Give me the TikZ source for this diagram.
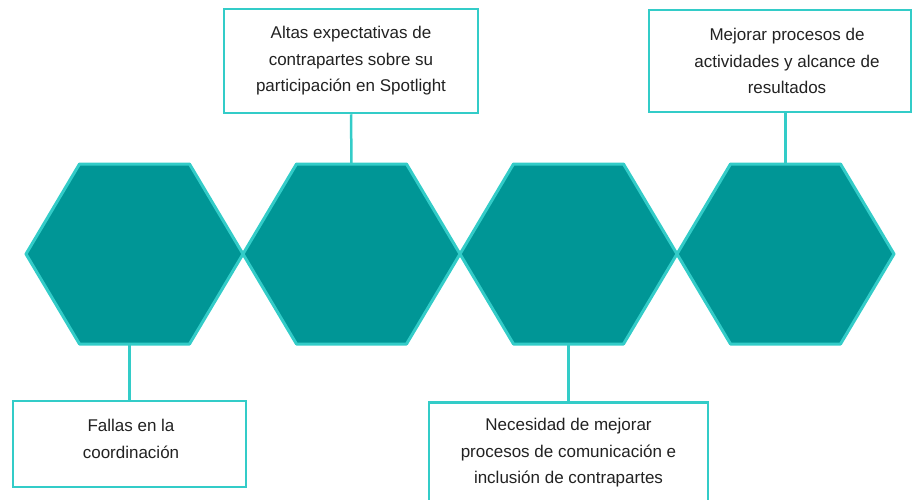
\documentclass[tikz,border=0pt]{standalone}
\usepackage{fontspec}
\setmainfont{Liberation Sans}
\definecolor{hexfill}{HTML}{009696}
\definecolor{hexline}{HTML}{33CCC8}
\definecolor{txt}{HTML}{222222}
\begin{document}
\begin{tikzpicture}[x=1pt,y=-1pt,
  hexa/.style={fill=hexfill,draw=hexline,line width=3pt,line join=round},
  label box/.style={draw=hexline,line width=2.5pt,fill=white,inner sep=0pt},
  label text/.style={align=center,text=txt,font=\fontsize{17}{26.5}\selectfont,inner sep=0pt},
  link/.style={draw=hexline,line width=2.5pt}]
\useasboundingbox (0,0) rectangle (915,499);
\begin{scope}
\clip (0,0) rectangle (915,499);
% hexagons
\foreach \i/\cx in {1/134.5,2/351.5,3/568.5,4/785.5}{
  \draw[hexa] (\cx-108.5,254) -- (\cx-55,164) -- (\cx+55,164) -- (\cx+108.5,254) -- (\cx+55,344) -- (\cx-55,344) -- cycle;
  \coordinate (top\i) at (\cx,164);
  \coordinate (bot\i) at (\cx,344);
}
% boxes
\node[label box,minimum width=254pt,minimum height=104pt] (b2) at (351,61) {};
\node[label text] (t2) at (351,61) {Altas expectativas de\\contrapartes sobre su\\participación en Spotlight};
\node[label box,minimum width=262pt,minimum height=102pt] (b4) at (780,61) {};
\node[label text] (t4) at (787,61) {Mejorar procesos de\\actividades y alcance de\\resultados};
\node[label box,minimum width=233pt,minimum height=86pt] (b1) at (129.5,444) {};
\node[label text] (t1) at (131,439) {Fallas en la\\coordinación};
\node[label box,minimum width=279pt,minimum height=110pt,anchor=north] (b3) at (568.5,401) {};
\node[label text] (t3) at (568.5,453) {Necesidad de mejorar\\procesos de comunicación e\\inclusión de contrapartes};
% connectors
\draw[link] (b2.south) -- (top2);
\draw[link] (b4.south -| top4) -- (top4);
\draw[link] (bot1 -| b1.north) -- (b1.north);
\draw[link] (bot3) -- (b3.north);
\end{scope}
\end{tikzpicture}
\end{document}
